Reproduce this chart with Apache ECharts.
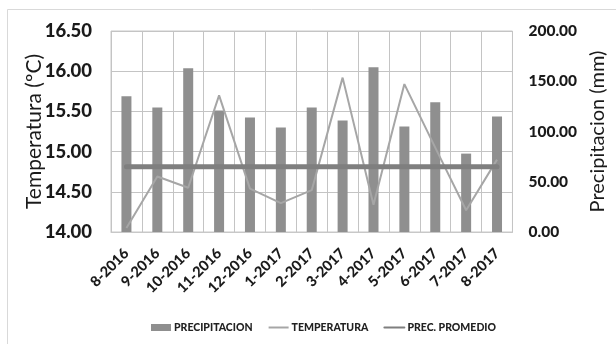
<!DOCTYPE html>
<html>
<head>
<meta charset="utf-8">
<script src="https://cdn.jsdelivr.net/npm/echarts@6/dist/echarts.min.js"></script>
<style>
  html, body { margin: 0; padding: 0; background: #fff; }
  #chart { width: 616px; height: 344px; }
</style>
</head>
<body>
<div id="chart"></div>
<script>
// Monthly series, Aug 2016 – Aug 2017
const months = ['8-2016', '9-2016', '10-2016', '11-2016', '12-2016', '1-2017', '2-2017',
                '3-2017', '4-2017', '5-2017', '6-2017', '7-2017', '8-2017'];
const precipitacion = [135, 124, 163, 121, 114, 104, 124, 111, 164, 105, 129, 78, 115];
const temperatura = [14.05, 14.69, 14.55, 15.70, 14.54, 14.36, 14.52, 15.92, 14.34, 15.84, 15.05, 14.27, 14.90];
const precPromedio = [65, 65, 65, 65, 65, 65, 65, 65, 65, 65, 65, 65, 65];
const tempTicks = [14, 16.5, 0.5];   // min, max, step
const precTicks = [0, 200, 50];

const FONT = 'Lato, "Open Sans", sans-serif';
const HEAVY = 900;
const chart = echarts.init(document.getElementById('chart'));

chart.setOption({
  animation: false,
  backgroundColor: '#fff',
  graphic: [{
    type: 'polyline',
    shape: { points: [[7.5, 344], [7.5, 9.5], [616, 9.5]] },
    style: { stroke: '#d9d9d9', lineWidth: 1, fill: null }
  }],
  grid: { left: 111, right: 99, top: 31, bottom: 112, show: true, borderColor: '#c8c8c8', borderWidth: 1 },
  legend: {
    bottom: 6,
    left: 146,
    itemWidth: 20,
    itemHeight: 7,
    itemGap: 15,
    textStyle: { fontFamily: FONT, fontWeight: HEAVY, fontSize: 10.5, color: '#222', padding: [0, 0, 0, -2] },
    data: [
      { name: 'PRECIPITACION', icon: 'rect' },
      { name: 'TEMPERATURA', itemStyle: { opacity: 0 } },
      { name: 'PREC. PROMEDIO', itemStyle: { opacity: 0 } }
    ]
  },
  xAxis: {
    type: 'category',
    data: months,
    boundaryGap: true,
    axisLine: { show: true, lineStyle: { color: '#c8c8c8' } },
    axisTick: { show: false },
    splitLine: { show: true, lineStyle: { color: '#c4c4c4', width: 1 } },
    axisLabel: {
      interval: 0, rotate: 45, margin: 19,
      fontFamily: FONT, fontWeight: HEAVY, fontSize: 14.5, color: '#1a1a1a'
    }
  },
  yAxis: [{
    type: 'value',
    min: tempTicks[0], max: tempTicks[1], interval: tempTicks[2],
    name: 'Temperatura (ºC)',
    nameLocation: 'middle',
    nameGap: 66,
    nameMoveOverlap: false,
    nameTextStyle: { fontFamily: FONT, fontSize: 21, color: '#1a1a1a' },
    axisLine: { show: false },
    axisTick: { show: false },
    splitLine: { show: true, lineStyle: { color: '#c4c4c4', width: 1 } },
    axisLabel: {
      margin: 19,
      fontFamily: FONT, fontWeight: HEAVY, fontSize: 18.5, color: '#1a1a1a',
      formatter: v => v.toFixed(2)
    }
  }, {
    type: 'value',
    min: precTicks[0], max: precTicks[1], interval: precTicks[2],
    name: 'Precipitacion (mm)',
    nameLocation: 'middle',
    nameGap: 75,
    nameRotate: 90,
    nameTextStyle: { fontFamily: FONT, fontSize: 20, color: '#1a1a1a' },
    axisLine: { show: false },
    axisTick: { show: false },
    splitLine: { show: false },
    axisLabel: {
      margin: 16,
      fontFamily: FONT, fontWeight: HEAVY, fontSize: 15.5, color: '#1a1a1a',
      formatter: v => v.toFixed(2)
    }
  }],
  series: [{
    name: 'PRECIPITACION',
    type: 'bar',
    yAxisIndex: 1,
    data: precipitacion,
    barWidth: 10,
    itemStyle: { color: '#8f8f8f' },
    z: 2
  }, {
    name: 'TEMPERATURA',
    type: 'line',
    yAxisIndex: 0,
    data: temperatura,
    symbol: 'none',
    lineStyle: { color: '#a6a6a6', width: 2 },
    itemStyle: { color: '#a6a6a6' },
    z: 3
  }, {
    name: 'PREC. PROMEDIO',
    type: 'line',
    yAxisIndex: 1,
    data: precPromedio,
    symbol: 'none',
    lineStyle: { color: '#7f7f7f', width: 5, cap: 'round' },
    itemStyle: { color: '#7f7f7f' },
    z: 4
  }]
});
</script>
</body>
</html>
